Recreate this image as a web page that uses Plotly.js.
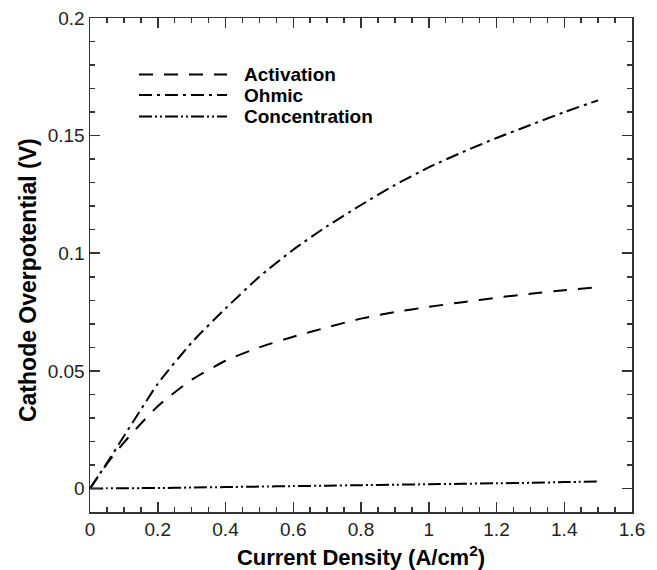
<!DOCTYPE html>
<html>
<head>
<meta charset="utf-8">
<script src="https://cdn.plot.ly/plotly-3.0.1.min.js"></script>
<style>html,body{margin:0;padding:0;background:#fff;}#chart{width:657px;height:570px;}</style>
</head>
<body>
<div id="chart"></div>
<script>
// Data
var currentDensity = [0, 0.05, 0.1, 0.15, 0.2, 0.3, 0.4, 0.5, 0.6, 0.7, 0.8, 0.9, 1.0, 1.1, 1.2, 1.3, 1.4, 1.5];
var activation    = [0, 0.0105, 0.0195, 0.0275, 0.0350, 0.0462, 0.0543, 0.0600, 0.0645, 0.0685, 0.0722, 0.0750, 0.0772, 0.0792, 0.0811, 0.0828, 0.0843, 0.0855];
var ohmic         = [0, 0.0108, 0.0222, 0.0335, 0.0445, 0.0620, 0.0765, 0.0900, 0.1015, 0.1115, 0.1205, 0.1290, 0.1365, 0.1430, 0.1490, 0.1545, 0.1600, 0.1650];
var concentration = [0, 0.00005, 0.0001, 0.00015, 0.0002, 0.0004, 0.0006, 0.0008, 0.0010, 0.0012, 0.0014, 0.0016, 0.0018, 0.0020, 0.0022, 0.0024, 0.0027, 0.0030];
var seriesNames = ['Activation', 'Ohmic', 'Concentration'];
var xTickVals = [0, 0.2, 0.4, 0.6, 0.8, 1, 1.2, 1.4, 1.6];
var yTickVals = [0, 0.05, 0.1, 0.15, 0.2];
var xTitle = '<b>Current Density (A/cm<sup>2</sup>)</b>';
var yTitle = '<b>Cathode Overpotential (V)</b>';

var dashes = ['14px,11px', '13px,5px,3px,5px', '13px,3px,2px,3px,2px,3px'];
var series = [activation, ohmic, concentration];

var traces = series.map(function (ys, i) {
  return {
    x: currentDensity, y: ys, type: 'scatter', mode: 'lines',
    name: seriesNames[i],
    line: {color: '#000', width: 2, dash: dashes[i], shape: 'spline', smoothing: 0.6},
    showlegend: false, hoverinfo: 'skip'
  };
});

var FONT = 'Liberation Sans, Arial, Helvetica, sans-serif';

// Manual legend (long sample lines like the reference)
var legendY = [0.8855, 0.844, 0.8004];
var shapes = [], annotations = [];
seriesNames.forEach(function (n, i) {
  shapes.push({type: 'line', xref: 'paper', yref: 'paper', x0: 0.0904, x1: 0.2528, y0: legendY[i], y1: legendY[i],
    line: {color: '#000', width: 2, dash: dashes[i]}});
  annotations.push({xref: 'paper', yref: 'paper', x: 0.2800, y: legendY[i], xanchor: 'left', yanchor: 'middle',
    text: '<b>' + n + '</b>', showarrow: false, font: {family: FONT, size: 19, color: '#000'}});
});
// y-axis title (placed slightly below the plot centre, as in the reference)
annotations.push({xref: 'paper', yref: 'paper', x: -0.114, y: 0.47, xanchor: 'center', yanchor: 'middle',
  textangle: -90, text: yTitle, showarrow: false, font: {family: FONT, size: 23, color: '#000'}});

var axisCommon = {
  showline: true, linecolor: '#333', linewidth: 1.5, mirror: 'allticks',
  ticks: 'inside', ticklen: 10, tickwidth: 1.5, tickcolor: '#333',
  showgrid: false, zeroline: false,
  tickfont: {family: FONT, size: 19, color: '#222'}
};

var layout = {
  width: 657, height: 570,
  margin: {l: 90, r: 25, t: 18, b: 58},
  paper_bgcolor: '#fff', plot_bgcolor: '#fff',
  showlegend: false,
  xaxis: Object.assign({}, axisCommon, {
    range: [0, 1.6], tickmode: 'array', tickvals: xTickVals,
    minor: {ticks: 'inside', ticklen: 5, tickwidth: 1.5, tickcolor: '#333', dtick: 0.05, showgrid: false},
    title: {text: xTitle, font: {family: FONT, size: 22, color: '#000'}, standoff: 10}
  }),
  yaxis: Object.assign({}, axisCommon, {
    range: [-0.01, 0.2], tickmode: 'array', tickvals: yTickVals,
    minor: {ticks: 'inside', ticklen: 5, tickwidth: 1.5, tickcolor: '#333', dtick: 0.01, showgrid: false}
  }),
  shapes: shapes,
  annotations: annotations
};

Plotly.newPlot('chart', traces, layout, {displayModeBar: false, staticPlot: true});
</script>
</body>
</html>
